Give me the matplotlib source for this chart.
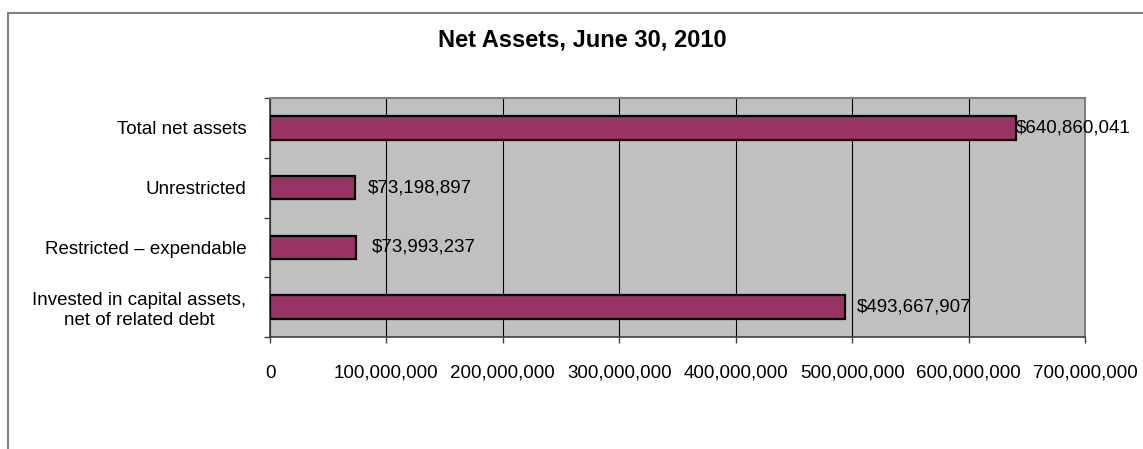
import numpy as np
import matplotlib.pyplot as plt
from matplotlib.lines import Line2D
from matplotlib.ticker import FuncFormatter

# bottom to top, as drawn
categories = ["Invested in capital assets,\nnet of related debt",
              "Restricted \u2013 expendable",
              "Unrestricted",
              "Total net assets"]
values = [493667907, 73993237, 73198897, 640860041]
label_offsets = [12, 16, 13, 0]   # px from bar end, as in the original

plt.rcParams['font.family'] = ['Liberation Sans', 'DejaVu Sans']

fig = plt.figure(figsize=(11.43, 4.49), dpi=100)
ax = fig.add_axes([270 / 1143, 1 - 337 / 449, 815 / 1143, 239 / 449])

y = np.arange(len(categories))
bars = ax.barh(y, values, height=0.39, color="#993366",
               edgecolor="black", linewidth=1.6, zorder=3)

ax.set_facecolor("#C0C0C0")
ax.set_xlim(0, 700000000)
ax.set_ylim(-0.5, len(categories) - 0.5)
ax.set_xticks(np.arange(0, 700000001, 100000000))
ax.xaxis.set_major_formatter(FuncFormatter(lambda v, p: f"{v:,.0f}"))
ax.grid(axis="x", color="black", linewidth=0.8, zorder=1)

ax.set_yticks(y)
ax.set_yticklabels(categories, ha="right", multialignment="center")
ax.set_yticks(np.arange(-0.5, len(categories), 1.0), minor=True)
ax.tick_params(axis="y", which="major", length=0, pad=17, labelsize=13.5)
ax.tick_params(axis="y", which="minor", length=4, width=1, color="#404040")
ax.tick_params(axis="x", length=4, width=1, color="#404040", pad=16,
               labelsize=13.5)

for side in ["top", "right"]:
    ax.spines[side].set_color("#808080")
    ax.spines[side].set_linewidth(1.5)
for side in ["left", "bottom"]:
    ax.spines[side].set_color("#404040")
    ax.spines[side].set_linewidth(1.2)

for b, v, off in zip(bars, values, label_offsets):
    ax.annotate(f"${v:,.0f}", (b.get_width(), b.get_y() + b.get_height() / 2),
                xytext=(off * 0.72, 0), textcoords="offset points",
                ha="left", va="center", fontsize=13.5, zorder=4)

fig.text(582 / 1143, 1 - 40 / 449, "Net Assets, June 30, 2010",
         ha="center", va="center", fontsize=17, fontweight="bold")

# outer chart frame (top and left edges visible)
fig.add_artist(Line2D([8 / 1143, 1.0], [1 - 13 / 449] * 2,
                      color="#808080", linewidth=1.5))
fig.add_artist(Line2D([8 / 1143] * 2, [0, 1 - 13 / 449],
                      color="#808080", linewidth=1.5))

fig.savefig("out.png", dpi=100)
